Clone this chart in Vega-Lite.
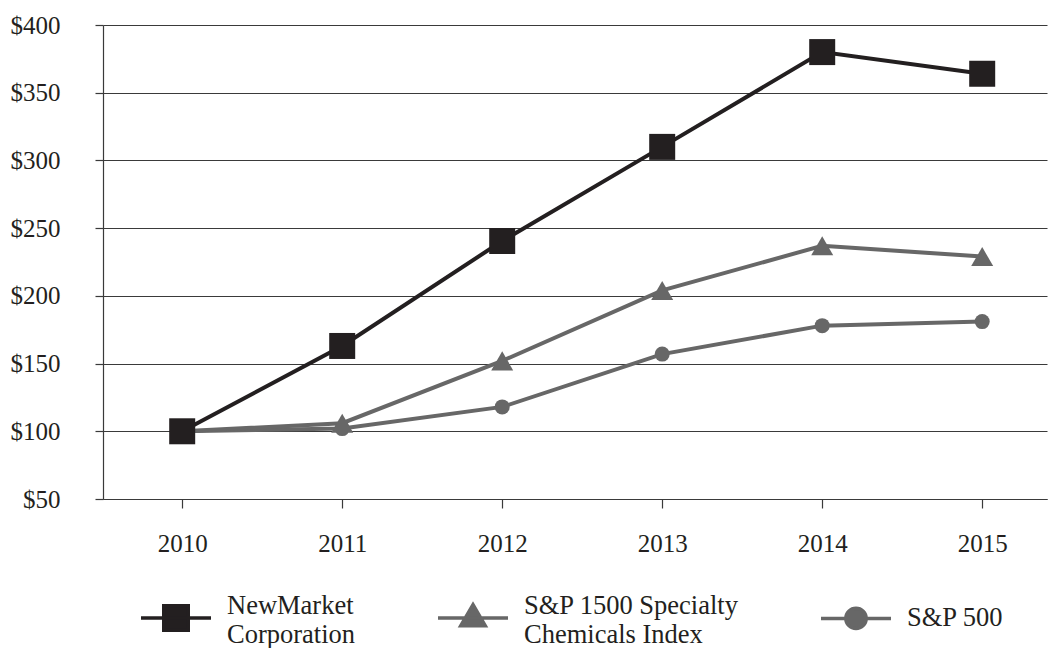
{
  "$schema": "https://vega.github.io/schema/vega-lite/v6.json",
  "width": 944,
  "height": 474,
  "autosize": "none",
  "padding": {"left": 103, "top": 25, "right": 1, "bottom": 149},
  "background": "white",
  "config": {
    "view": {"stroke": null},
    "axis": {
      "labelFont": "Liberation Serif",
      "labelFontSize": 25,
      "labelColor": "#231f20",
      "domainColor": "#3a3a3a",
      "tickColor": "#3a3a3a",
      "gridColor": "#3a3a3a",
      "gridOpacity": 1,
      "domainWidth": 1.2,
      "tickWidth": 1.2,
      "gridWidth": 1.2,
      "title": null
    }
  },
  "data": {
    "values": [
      {"year": 2010, "series": "S&P 500", "value": 100},
      {"year": 2011, "series": "S&P 500", "value": 102},
      {"year": 2012, "series": "S&P 500", "value": 118},
      {"year": 2013, "series": "S&P 500", "value": 157},
      {"year": 2014, "series": "S&P 500", "value": 178},
      {"year": 2015, "series": "S&P 500", "value": 181},
      {"year": 2010, "series": "S&P 1500 Specialty Chemicals Index", "value": 100},
      {"year": 2011, "series": "S&P 1500 Specialty Chemicals Index", "value": 106},
      {"year": 2012, "series": "S&P 1500 Specialty Chemicals Index", "value": 152},
      {"year": 2013, "series": "S&P 1500 Specialty Chemicals Index", "value": 204},
      {"year": 2014, "series": "S&P 1500 Specialty Chemicals Index", "value": 237},
      {"year": 2015, "series": "S&P 1500 Specialty Chemicals Index", "value": 229},
      {"year": 2010, "series": "NewMarket Corporation", "value": 100},
      {"year": 2011, "series": "NewMarket Corporation", "value": 163},
      {"year": 2012, "series": "NewMarket Corporation", "value": 240.5},
      {"year": 2013, "series": "NewMarket Corporation", "value": 310},
      {"year": 2014, "series": "NewMarket Corporation", "value": 380},
      {"year": 2015, "series": "NewMarket Corporation", "value": 364}
    ]
  },
  "encoding": {
    "x": {
      "field": "year",
      "type": "quantitative",
      "scale": {"domain": [2009.505, 2015.405], "nice": false, "zero": false},
      "axis": {
        "values": [2010, 2011, 2012, 2013, 2014, 2015],
        "format": "d",
        "grid": false,
        "tickSize": 9,
        "labelPadding": 23,
        "labelFlush": false
      }
    },
    "y": {
      "field": "value",
      "type": "quantitative",
      "scale": {"domain": [50, 400], "nice": false, "zero": false},
      "axis": {
        "values": [50, 100, 150, 200, 250, 300, 350, 400],
        "labelExpr": "'$' + datum.value",
        "grid": true,
        "tickSize": 8,
        "labelPadding": 35
      }
    }
  },
  "layer": [
    {
      "mark": {"type": "line", "strokeWidth": 4},
      "encoding": {
        "color": {
          "field": "series",
          "type": "nominal",
          "scale": {
            "domain": ["S&P 500", "S&P 1500 Specialty Chemicals Index", "NewMarket Corporation"],
            "range": ["#676767", "#676767", "#231f20"]
          },
          "legend": null
        },
        "order": {"field": "year"}
      }
    },
    {
      "transform": [{"filter": "datum.series == 'S&P 500'"}],
      "mark": {"type": "point", "shape": "circle", "size": 225, "filled": true, "opacity": 1, "color": "#676767"}
    },
    {
      "transform": [{"filter": "datum.series == 'S&P 1500 Specialty Chemicals Index'"}],
      "mark": {"type": "point", "shape": "triangle-up", "size": 484, "filled": true, "opacity": 1, "color": "#676767"}
    },
    {
      "transform": [{"filter": "datum.series == 'NewMarket Corporation'"}],
      "mark": {"type": "point", "shape": "square", "size": 676, "filled": true, "opacity": 1, "color": "#231f20"}
    },
    {
      "mark": {"type": "point", "filled": true, "opacity": 0},
      "encoding": {
        "fill": {
          "field": "series",
          "type": "nominal",
          "scale": {
            "domain": ["NewMarket Corporation", "S&P 1500 Specialty Chemicals Index", "S&P 500"],
            "range": ["#231f20", "#676767", "#676767"]
          }
        },
        "stroke": {
          "field": "series",
          "type": "nominal",
          "scale": {
            "domain": ["NewMarket Corporation", "S&P 1500 Specialty Chemicals Index", "S&P 500"],
            "range": ["#231f20", "#676767", "#676767"]
          }
        },
        "shape": {
          "field": "series",
          "type": "nominal",
          "scale": {
            "domain": ["NewMarket Corporation", "S&P 1500 Specialty Chemicals Index", "S&P 500"],
            "range": [
              "M-1,0.343H1M-0.35,-0.007H0.35V0.693H-0.35Z",
              "M-1,0.343H1M0,-0.037L0.35,0.563H-0.35Z",
              "M-1,0H1M0.29,0C0.29,0.16,0.16,0.29,0,0.29C-0.16,0.29,-0.29,0.16,-0.29,0C-0.29,-0.16,-0.16,-0.29,0,-0.29C0.16,-0.29,0.29,-0.16,0.29,0Z"
            ]
          },
          "legend": {
            "title": null,
            "orient": "none",
            "legendX": 36,
            "legendY": 544,
            "direction": "horizontal",
            "padding": 0,
            "symbolSize": 4900,
            "symbolOpacity": 1,
            "symbolStrokeWidth": 3.5,
            "labelFont": "Liberation Serif",
            "labelFontSize": 26.5,
            "labelColor": "#231f20",
            "labelLimit": 400,
            "labelOffset": 14,
            "columnPadding": 75,
            "labelExpr": "datum.label == 'NewMarket Corporation' ? ['NewMarket', 'Corporation'] : datum.label == 'S&P 1500 Specialty Chemicals Index' ? ['S&P 1500 Specialty', 'Chemicals Index'] : datum.label"
          }
        }
      }
    }
  ]
}
